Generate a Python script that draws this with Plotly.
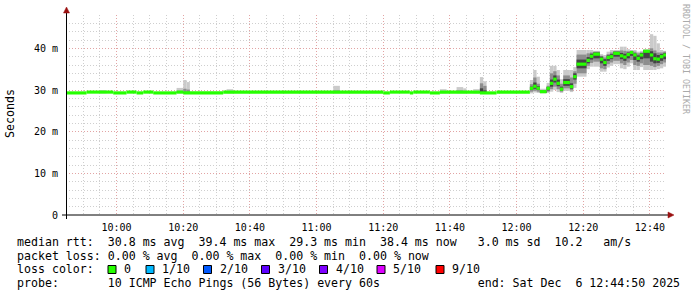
import plotly.graph_objects as go
from datetime import datetime

DAY = "2025-12-06 "
RANGE_START = "09:44:50"
RANGE_END = "12:44:50"

# ---- median RTT (ms), step runs: start time of each run ----
med_start = ["09:44", "09:51", "09:59", "10:03", "10:06", "10:08", "10:11", "10:18", "10:20", "10:32",
             "11:20", "11:22", "11:28", "11:29", "11:34", "11:37", "11:49", "11:54",
             "12:04", "12:05", "12:06", "12:07", "12:09", "12:10", "12:11", "12:12", "12:13", "12:14",
             "12:16", "12:17", "12:18", "12:21", "12:22", "12:23", "12:25", "12:26", "12:27", "12:28",
             "12:29", "12:31", "12:32", "12:33", "12:34", "12:35", "12:36", "12:37", "12:38", "12:40",
             "12:41", "12:42", "12:43", "12:44"]
med_ms = [29.3, 29.5, 29.3, 29.5, 29.3, 29.5, 29.3, 29.5, 29.3, 29.5,
          29.3, 29.5, 29.3, 29.5, 29.3, 29.5, 29.3, 29.5,
          30.4, 30.9, 30.4, 29.6, 30.4, 31.6, 32.6, 31.6, 30.2, 31.8,
          30.8, 33.2, 36.2, 37.1, 38.1, 38.6, 37.4, 36.6, 37.8, 38.0,
          38.8, 38.2, 37.9, 38.5, 39.0, 38.4, 37.6, 38.4, 39.3, 38.4,
          37.5, 37.4, 38.0, 38.4]

# ---- smoke (ping spread), sparse runs: start / end ----
smoke_start = ["09:55", "10:18", "10:20", "10:21", "10:33", "11:05", "11:37", "11:42", "11:44", "11:47",
               "11:49", "11:50",
               "12:04", "12:05", "12:06", "12:07", "12:09", "12:10", "12:11", "12:12", "12:13", "12:14",
               "12:16", "12:17", "12:18", "12:21", "12:22", "12:23", "12:25", "12:26", "12:27", "12:28",
               "12:29", "12:31", "12:32", "12:33", "12:34", "12:35", "12:36", "12:37", "12:38", "12:40",
               "12:41", "12:42", "12:43", "12:44"]
smoke_end = ["09:57", "10:20", "10:21", "10:22", "10:35", "11:07", "11:39", "11:44", "11:45", "11:49",
             "11:50", "11:51",
             "12:05", "12:06", "12:07", "12:09", "12:10", "12:11", "12:12", "12:13", "12:14", "12:16",
             "12:17", "12:18", "12:21", "12:22", "12:23", "12:25", "12:26", "12:27", "12:28", "12:29",
             "12:31", "12:32", "12:33", "12:34", "12:35", "12:36", "12:37", "12:38", "12:40", "12:41",
             "12:42", "12:43", "12:44", "12:44:50"]
outer_lo = [29.2, 29.2, 29.2, 29.2, 29.2, 29.2, 29.2, 29.2, 29.2, 29.2, 29.1, 29.1,
            29.2, 29.4, 29.3, 29.2, 29.3, 29.6, 30.0, 29.5, 29.3, 29.8,
            29.5, 30.5, 33.2, 35.0, 35.6, 35.6, 34.4, 34.4, 35.4, 35.8,
            36.2, 35.2, 35.0, 35.6, 36.4, 34.8, 34.8, 35.5, 34.8, 34.8,
            34.8, 35.0, 35.2, 35.6]
outer_hi = [30.0, 30.5, 32.4, 31.9, 30.2, 31.0, 30.2, 30.7, 30.4, 30.2, 33.1, 32.1,
            32.4, 34.8, 33.2, 30.3, 31.7, 35.8, 35.8, 34.8, 32.6, 34.8,
            34.8, 35.5, 39.6, 39.6, 39.6, 39.4, 38.6, 38.4, 39.2, 39.6,
            39.6, 40.4, 40.4, 39.8, 39.6, 39.6, 39.2, 39.4, 39.8, 43.4,
            43.0, 41.2, 39.6, 39.4]
mid_lo = [29.3, 29.3, 29.3, 29.3, 29.3, 29.3, 29.3, 29.3, 29.3, 29.3, 29.3, 29.3,
          29.6, 29.8, 29.6, 29.3, 29.6, 30.2, 30.8, 30.2, 29.6, 30.4,
          29.9, 31.5, 34.0, 35.8, 36.5, 36.8, 35.2, 35.0, 36.2, 36.6,
          37.0, 36.4, 36.0, 36.6, 37.2, 36.0, 35.8, 36.4, 36.0, 35.8,
          35.5, 35.8, 36.2, 36.6]
mid_hi = [29.6, 29.8, 30.3, 30.1, 29.7, 29.9, 29.7, 29.9, 29.8, 29.7, 31.6, 31.0,
          31.4, 33.0, 31.5, 30.0, 31.0, 34.0, 34.5, 33.5, 31.5, 33.5,
          33.0, 34.5, 38.5, 38.8, 39.0, 39.2, 38.2, 37.8, 38.6, 39.0,
          39.3, 39.5, 39.4, 39.3, 39.4, 39.2, 38.8, 39.0, 39.6, 40.0,
          39.5, 39.0, 39.0, 39.2]
core_lo = [29.3, 29.4, 29.4, 29.4, 29.4, 29.4, 29.4, 29.4, 29.4, 29.4, 29.4, 29.4,
           30.0, 30.3, 30.0, 29.4, 29.9, 30.8, 31.8, 30.9, 29.9, 31.0,
           30.3, 32.5, 35.2, 36.4, 37.3, 37.6, 36.4, 35.8, 37.0, 37.4,
           38.0, 37.4, 37.0, 37.6, 38.2, 37.2, 36.8, 37.4, 37.6, 36.8,
           36.4, 36.5, 37.0, 37.4]
core_hi = [29.5, 29.5, 29.5, 29.5, 29.5, 29.5, 29.5, 29.5, 29.5, 29.5, 30.4, 29.9,
           30.8, 31.8, 30.9, 29.8, 30.7, 32.5, 33.5, 32.5, 30.8, 32.6,
           31.6, 34.0, 37.3, 37.9, 38.7, 39.0, 38.0, 37.4, 38.3, 38.6,
           39.2, 38.9, 38.7, 39.0, 39.3, 38.8, 38.3, 38.9, 39.5, 39.3,
           38.8, 38.4, 38.6, 38.9]

# ---- axis ticks ----
y_tickvals = [0, 10, 20, 30, 40]
y_ticktext = ["0", "10 m", "20 m", "30 m", "40 m"]

# ---- legend text ----
legend_lines = [
    "median rtt:  30.8 ms avg  39.4 ms max  29.3 ms min  38.4 ms now   3.0 ms sd  10.2   am/s",
    "packet loss: 0.00 % avg  0.00 % max  0.00 % min  0.00 % now",
    "loss color:",
    "probe:       10 ICMP Echo Pings (56 Bytes) every 60s              end: Sat Dec  6 12:44:50 2025",
]
loss_labels = ["0", "1/10", "2/10", "3/10", "4/10", "5/10", "9/10"]
loss_colors = ["#26ff00", "#00b8ff", "#0059ff", "#5e00ff", "#7e00ff", "#dd00ff", "#ff0000"]
loss_box_x = [108, 146, 203.5, 261.5, 319.5, 377, 436]

MONO = "DejaVu Sans Mono"


def ts(hm):
    fmt = "%H:%M:%S" if hm.count(":") == 2 else "%H:%M"
    t = datetime.strptime(hm, fmt)
    return datetime(2025, 12, 6, t.hour, t.minute, t.second)


def runs(starts, ends):
    s = [ts(a) for a in starts]
    e = [ts(b) for b in ends]
    centers = [a + (b - a) / 2 for a, b in zip(s, e)]
    widths = [(b - a).total_seconds() * 1000 for a, b in zip(s, e)]
    return centers, widths


fig = go.Figure()

sc, sw = runs(smoke_start, smoke_end)
for lo, hi, col in [(outer_lo, outer_hi, "#cacaca"),
                    (mid_lo, mid_hi, "#8e8e8e"),
                    (core_lo, core_hi, "#444444")]:
    fig.add_trace(go.Bar(x=sc, base=lo, y=[h - l for l, h in zip(lo, hi)], width=sw,
                         marker=dict(color=col, line=dict(width=0)), hoverinfo="skip"))

med_end = med_start[1:] + [RANGE_END]
mc, mw = runs(med_start, med_end)
band = 0.76
fig.add_trace(go.Bar(x=mc, base=[m - band / 2 for m in med_ms], y=[band] * len(med_ms), width=mw,
                     marker=dict(color="#26ff00", line=dict(width=0)), hoverinfo="skip"))

L, R, T, B = 66, 31, 15, 82
PW, PH = 697 - L - R, 297 - T - B


def px(x):
    return (x - L) / PW


def py(y):
    return (T + PH - y) / PH


MAJ = "#e2a4a4"
MIN = "#cfcfcf"
DOT = "1px,2px"

fig.update_layout(
    width=697, height=297,
    margin=dict(l=L, r=R, t=T, b=B, pad=0),
    paper_bgcolor="white", plot_bgcolor="white",
    showlegend=False, barmode="overlay",
    font=dict(family=MONO, size=10, color="#000000"),
    xaxis=dict(type="date", range=[ts(RANGE_START), ts(RANGE_END)],
               tick0=ts("10:00"), dtick=1200000, tickformat="%H:%M",
               showgrid=True, gridcolor=MAJ, griddash=DOT, gridwidth=1,
               minor=dict(tick0=ts("10:00"), dtick=300000, showgrid=True, gridcolor=MIN, griddash=DOT),
               ticks="outside", ticklen=3, tickcolor="rgba(0,0,0,0)",
               showline=False, zeroline=False, layer="above traces",
               tickfont=dict(family=MONO, size=10, color="#000000"), fixedrange=True),
    yaxis=dict(range=[0, 48], tickmode="array", tickvals=y_tickvals, ticktext=y_ticktext,
               showgrid=True, gridcolor=MAJ, griddash=DOT, gridwidth=1,
               minor=dict(tickmode="linear", tick0=0, dtick=2, showgrid=True, gridcolor=MIN, griddash=DOT),
               ticks="outside", ticklen=5, tickcolor="rgba(0,0,0,0)",
               showline=False, zeroline=False, layer="above traces",
               tickfont=dict(family=MONO, size=10, color="#000000"), fixedrange=True),
)

shapes = []
# axes lines
shapes.append(dict(type="line", xref="paper", yref="paper", x0=px(62), x1=px(668), y0=py(215), y1=py(215),
                   line=dict(color="#000000", width=1)))
shapes.append(dict(type="line", xref="paper", yref="paper", x0=px(66.5), x1=px(66.5), y0=py(219), y1=py(12),
                   line=dict(color="#000000", width=1)))
# arrows
shapes.append(dict(type="path", xref="paper", yref="paper",
                   path=f"M {px(668)} {py(212)} L {px(674)} {py(215)} L {px(668)} {py(218)} Z",
                   fillcolor="#9a1010", line=dict(color="#9a1010", width=0.5)))
shapes.append(dict(type="path", xref="paper", yref="paper",
                   path=f"M {px(63.5)} {py(13)} L {px(66.5)} {py(7)} L {px(69.5)} {py(13)} Z",
                   fillcolor="#9a1010", line=dict(color="#9a1010", width=0.5)))
# loss colour boxes
for bx, col in zip(loss_box_x, loss_colors):
    shapes.append(dict(type="rect", xref="paper", yref="paper",
                       x0=px(bx), x1=px(bx + 8), y0=py(265.5), y1=py(273.5),
                       fillcolor=col, line=dict(color="#000000", width=1)))
fig.update_layout(shapes=shapes)

NB = "\u00a0"
ann = []
line_y = [242.0, 255.7, 269.4, 283.1]
for txt, yy in zip(legend_lines, line_y):
    ann.append(dict(text=txt.replace(" ", NB), xref="paper", yref="paper", x=px(15), y=py(yy),
                    xanchor="left", yanchor="middle", showarrow=False,
                    font=dict(family=MONO, size=11.6, color="#000000")))
for bx, lab in zip(loss_box_x, loss_labels):
    ann.append(dict(text=lab, xref="paper", yref="paper", x=px(bx + 14), y=py(line_y[2]),
                    xanchor="left", yanchor="middle", showarrow=False,
                    font=dict(family=MONO, size=11.6, color="#000000")))
ann.append(dict(text="Seconds", xref="paper", yref="paper", x=px(10), y=py(114),
                xanchor="center", yanchor="middle", textangle=-90, showarrow=False,
                font=dict(family=MONO, size=11.6, color="#000000")))
ann.append(dict(text="RRDTOOL / TOBI OETIKER".replace(" ", NB), xref="paper", yref="paper", x=px(686), y=py(59),
                xanchor="center", yanchor="middle", textangle=90, showarrow=False,
                font=dict(family=MONO, size=8.3, color="#aaaaaa")))
fig.update_layout(annotations=ann)

fig.write_html("out.html")
